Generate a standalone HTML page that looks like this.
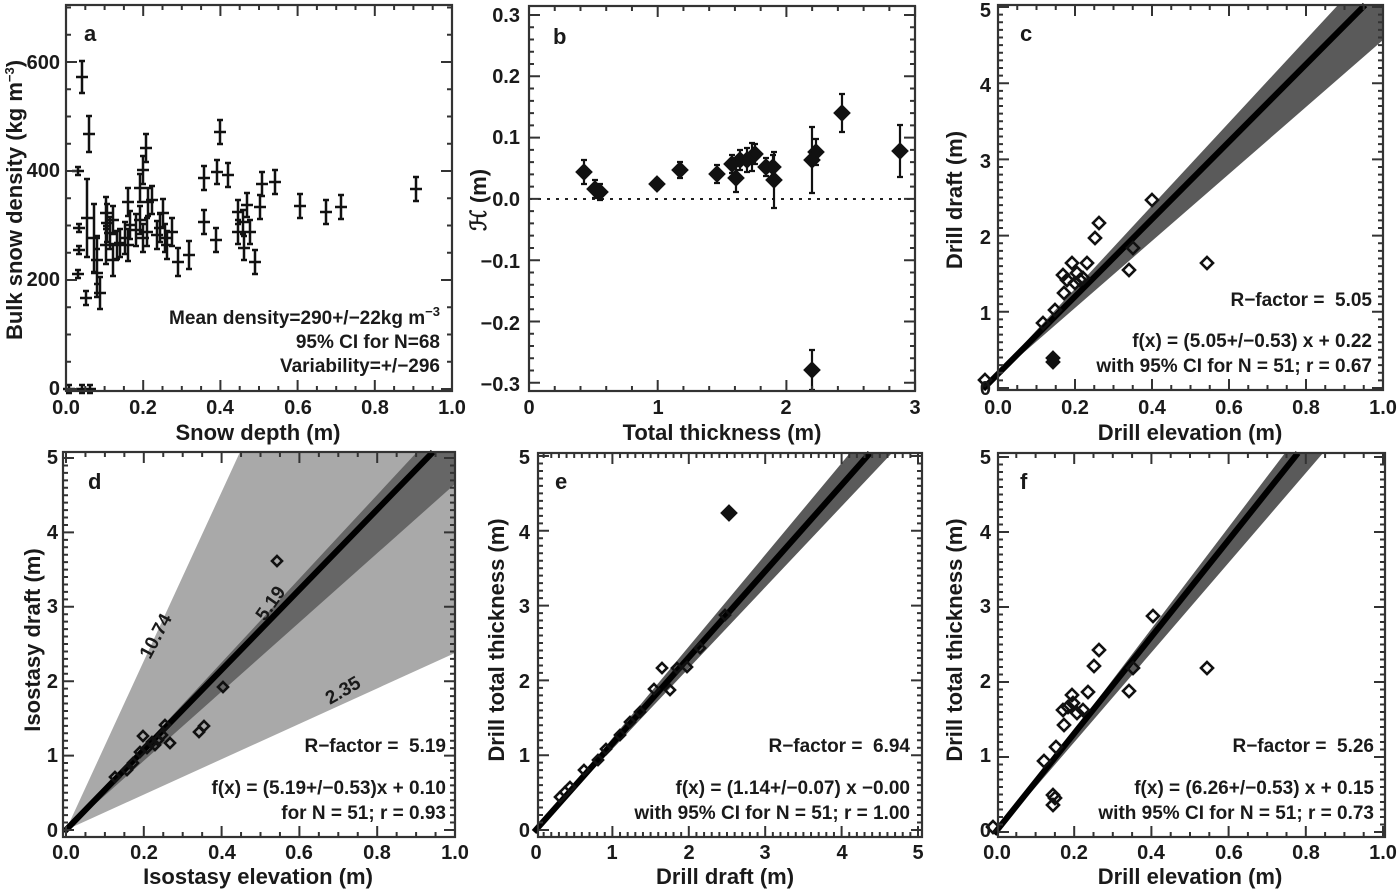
<!DOCTYPE html>
<html><head><meta charset="utf-8"><style>
html,body{margin:0;padding:0;background:#fff;}
svg{display:block;}
text{font-family:"Liberation Sans",Arial,sans-serif;font-weight:bold;fill:#1a1a1a;white-space:pre;}
.t{font-size:20px;}
.l{font-size:22px;}
.s{font-size:19px;}
</style></head><body>
<svg id="c" width="1400" height="891" viewBox="0 0 1400 891" xmlns="http://www.w3.org/2000/svg">
<g id="bands">
<polygon points="983,388 1338,5 1383,5 1383,40" fill="#5a5a5a"/>
<line x1="983" y1="389" x2="1365" y2="5" stroke="#000" stroke-width="6"/>
<polygon points="66,830 240,452 455,452 455,653" fill="#a9a9a9"/>
<polygon points="66,830 417,452 455,452 455,484" fill="#666"/>
<line x1="64" y1="832" x2="433" y2="452" stroke="#000" stroke-width="6"/>
<polygon points="536,830 850,453 892,453" fill="#5a5a5a"/>
<line x1="534" y1="832" x2="870" y2="453" stroke="#000" stroke-width="6"/>
<polygon points="997,832 1285,453 1323,453" fill="#5a5a5a"/>
<line x1="994" y1="834" x2="1298" y2="453" stroke="#000" stroke-width="6"/>
<line x1="529" y1="199" x2="915" y2="199" stroke="#222" stroke-width="2" stroke-dasharray="3,6"/>
</g>
<g id="marks"></g>
<g id="axes"></g>

<text x="84" y="41" class="l">a</text>
<text x="60" y="69" class="t" text-anchor="end">600</text>
<text x="60" y="177" class="t" text-anchor="end">400</text>
<text x="60" y="286" class="t" text-anchor="end">200</text>
<text x="60" y="395" class="t" text-anchor="end">0</text>
<text x="66" y="414" class="t" text-anchor="middle">0.0</text>
<text x="143" y="414" class="t" text-anchor="middle">0.2</text>
<text x="220" y="414" class="t" text-anchor="middle">0.4</text>
<text x="298" y="414" class="t" text-anchor="middle">0.6</text>
<text x="375" y="414" class="t" text-anchor="middle">0.8</text>
<text x="452" y="414" class="t" text-anchor="middle">1.0</text>
<text x="258" y="440" class="l" text-anchor="middle">Snow depth (m)</text>
<text transform="translate(22,200) rotate(-90)" class="l" text-anchor="middle">Bulk snow density (kg m<tspan dy="-8" font-size="13">−3</tspan><tspan dy="8">)</tspan></text>
<text x="440" y="324" class="s" text-anchor="end">Mean density=290+/−22kg m<tspan dy="-8" font-size="13">−3</tspan></text>
<text x="440" y="348" class="s" text-anchor="end">95% CI for N=68</text>
<text x="440" y="372" class="s" text-anchor="end">Variability=+/−296</text>

<text x="553" y="44" class="l">b</text>
<text x="520" y="22" class="t" text-anchor="end">0.3</text>
<text x="520" y="83" class="t" text-anchor="end">0.2</text>
<text x="520" y="144" class="t" text-anchor="end">0.1</text>
<text x="520" y="206" class="t" text-anchor="end">0.0</text>
<text x="520" y="268" class="t" text-anchor="end">−0.1</text>
<text x="520" y="330" class="t" text-anchor="end">−0.2</text>
<text x="520" y="391" class="t" text-anchor="end">−0.3</text>
<text x="529" y="414" class="t" text-anchor="middle">0</text>
<text x="658" y="414" class="t" text-anchor="middle">1</text>
<text x="786" y="414" class="t" text-anchor="middle">2</text>
<text x="915" y="414" class="t" text-anchor="middle">3</text>
<text x="722" y="440" class="l" text-anchor="middle">Total thickness (m)</text>
<text transform="translate(486,200) rotate(-90)" class="l" text-anchor="middle">ℋ (m)</text>

<text x="1020" y="41" class="l">c</text>
<text x="991" y="17" class="t" text-anchor="end">5</text>
<text x="991" y="92" class="t" text-anchor="end">4</text>
<text x="991" y="168" class="t" text-anchor="end">3</text>
<text x="991" y="244" class="t" text-anchor="end">2</text>
<text x="991" y="320" class="t" text-anchor="end">1</text>
<text x="991" y="395" class="t" text-anchor="end">0</text>
<text x="998" y="414" class="t" text-anchor="middle">0.0</text>
<text x="1075" y="414" class="t" text-anchor="middle">0.2</text>
<text x="1152" y="414" class="t" text-anchor="middle">0.4</text>
<text x="1229" y="414" class="t" text-anchor="middle">0.6</text>
<text x="1306" y="414" class="t" text-anchor="middle">0.8</text>
<text x="1383" y="414" class="t" text-anchor="middle">1.0</text>
<text x="1190" y="440" class="l" text-anchor="middle">Drill elevation (m)</text>
<text transform="translate(962,200) rotate(-90)" class="l" text-anchor="middle">Drill draft (m)</text>
<text x="1372" y="306" class="s" text-anchor="end">R−factor =  5.05</text>
<text x="1372" y="347" class="s" text-anchor="end">f(x) = (5.05+/−0.53) x + 0.22</text>
<text x="1372" y="372" class="s" text-anchor="end">with 95% CI for N = 51; r = 0.67</text>

<text x="88" y="489" class="l">d</text>
<text x="58" y="464" class="t" text-anchor="end">5</text>
<text x="58" y="539" class="t" text-anchor="end">4</text>
<text x="58" y="613" class="t" text-anchor="end">3</text>
<text x="58" y="688" class="t" text-anchor="end">2</text>
<text x="58" y="762" class="t" text-anchor="end">1</text>
<text x="58" y="837" class="t" text-anchor="end">0</text>
<text x="66" y="859" class="t" text-anchor="middle">0.0</text>
<text x="144" y="859" class="t" text-anchor="middle">0.2</text>
<text x="222" y="859" class="t" text-anchor="middle">0.4</text>
<text x="299" y="859" class="t" text-anchor="middle">0.6</text>
<text x="377" y="859" class="t" text-anchor="middle">0.8</text>
<text x="455" y="859" class="t" text-anchor="middle">1.0</text>
<text x="258" y="884" class="l" text-anchor="middle">Isostasy elevation (m)</text>
<text transform="translate(40,640) rotate(-90)" class="l" text-anchor="middle">Isostasy draft (m)</text>
<text transform="translate(150,660) rotate(-62)" class="s">10.74</text>
<text transform="translate(265,622) rotate(-55)" class="s">5.19</text>
<text transform="translate(330,705) rotate(-30)" class="s">2.35</text>
<text x="446" y="752" class="s" text-anchor="end">R−factor =  5.19</text>
<text x="446" y="794" class="s" text-anchor="end">f(x) = (5.19+/−0.53)x + 0.10</text>
<text x="446" y="819" class="s" text-anchor="end">for N = 51; r = 0.93</text>

<text x="555" y="489" class="l">e</text>
<text x="530" y="464" class="t" text-anchor="end">5</text>
<text x="530" y="539" class="t" text-anchor="end">4</text>
<text x="530" y="613" class="t" text-anchor="end">3</text>
<text x="530" y="688" class="t" text-anchor="end">2</text>
<text x="530" y="762" class="t" text-anchor="end">1</text>
<text x="530" y="837" class="t" text-anchor="end">0</text>
<text x="536" y="859" class="t" text-anchor="middle">0</text>
<text x="612" y="859" class="t" text-anchor="middle">1</text>
<text x="689" y="859" class="t" text-anchor="middle">2</text>
<text x="765" y="859" class="t" text-anchor="middle">3</text>
<text x="842" y="859" class="t" text-anchor="middle">4</text>
<text x="918" y="859" class="t" text-anchor="middle">5</text>
<text x="725" y="884" class="l" text-anchor="middle">Drill draft (m)</text>
<text transform="translate(504,640) rotate(-90)" class="l" text-anchor="middle">Drill total thickness (m)</text>
<text x="910" y="752" class="s" text-anchor="end">R−factor =  6.94</text>
<text x="910" y="794" class="s" text-anchor="end">f(x) = (1.14+/−0.07) x −0.00</text>
<text x="910" y="819" class="s" text-anchor="end">with 95% CI for N = 51; r = 1.00</text>

<text x="1020" y="489" class="l">f</text>
<text x="991" y="464" class="t" text-anchor="end">5</text>
<text x="991" y="539" class="t" text-anchor="end">4</text>
<text x="991" y="613" class="t" text-anchor="end">3</text>
<text x="991" y="688" class="t" text-anchor="end">2</text>
<text x="991" y="762" class="t" text-anchor="end">1</text>
<text x="991" y="837" class="t" text-anchor="end">0</text>
<text x="997" y="859" class="t" text-anchor="middle">0.0</text>
<text x="1074" y="859" class="t" text-anchor="middle">0.2</text>
<text x="1151" y="859" class="t" text-anchor="middle">0.4</text>
<text x="1229" y="859" class="t" text-anchor="middle">0.6</text>
<text x="1306" y="859" class="t" text-anchor="middle">0.8</text>
<text x="1383" y="859" class="t" text-anchor="middle">1.0</text>
<text x="1190" y="884" class="l" text-anchor="middle">Drill elevation (m)</text>
<text transform="translate(962,640) rotate(-90)" class="l" text-anchor="middle">Drill total thickness (m)</text>
<text x="1374" y="752" class="s" text-anchor="end">R−factor =  5.26</text>
<text x="1374" y="794" class="s" text-anchor="end">f(x) = (6.26+/−0.53) x + 0.15</text>
<text x="1374" y="819" class="s" text-anchor="end">with 95% CI for N = 51; r = 0.73</text>
</svg>
<script>
var NS="http://www.w3.org/2000/svg";
var axes=document.getElementById("axes"),marks=document.getElementById("marks");
function el(p,t,a){var e=document.createElementNS(NS,t);for(var k in a)e.setAttribute(k,a[k]);p.appendChild(e);return e;}
var d="";
function panel(x0,y0,x1,y1,xs,xstep,xmaj,ys,ystep,ymaj){
  el(axes,"rect",{x:x0,y:y0,width:x1-x0,height:y1-y0,fill:"none",stroke:"#333","stroke-width":2.2});
  var i=0;
  for(var x=xs;x<=x1+0.5;x+=xstep,i++){ if(x<x0-0.5) continue; var L=(i%xmaj==0)?11:5;
    d+="M"+x+" "+y1+"v"+(-L)+"M"+x+" "+y0+"v"+L;}
  i=0;
  for(var y=ys;y>=y0-0.5;y-=ystep,i++){ if(y>y1+0.5) continue; var L=(i%ymaj==0)?11:5;
    d+="M"+x0+" "+y+"h"+L+"M"+x1+" "+y+"h"+(-L);}
}
panel(66,5,452,391,66,19.3,4,389,27.25,4);
panel(529,6,915,391,529,25.74,5,382.8,12.26,5);
panel(998,5,1383,390,998,19.25,4,388,7.62,10);
panel(63,452,455,837,66,19.45,4,830,7.44,10);
panel(538,453,922,837,536,7.64,10,830,7.48,10);
panel(998,453,1385,837,997,19.3,4,832,7.5,10);
el(axes,"path",{d:d,stroke:"#333","stroke-width":2,fill:"none"});

var A=[[82,77,12],[89,134,14],[78,171,0],[79,228,0],[79,250,0],[78,274,0],[86,298,3],[87,218,35],[94,238,30],[97,260,20],[97,273,20],[100,293,12],[106,213,12],[107,223,15],[110,233,12],[106,245,15],[113,220,10],[113,260,12],[117,245,10],[120,243,10],[128,245,12],[125,238,12],[128,202,10],[130,225,10],[136,230,12],[140,188,10],[140,220,10],[143,238,10],[146,148,10],[143,170,10],[148,202,10],[147,232,10],[152,200,10],[157,235,10],[165,238,10],[160,228,10],[163,213,10],[167,245,10],[178,262,10],[172,232,10],[189,255,10],[204,178,8],[204,222,8],[217,172,8],[220,132,8],[216,240,8],[228,175,8],[238,212,8],[238,232,8],[250,232,8],[244,248,8],[260,207,8],[262,184,8],[255,262,8],[275,182,8],[247,205,8],[243,222,8],[300,206,8],[326,212,8],[341,207,8],[416,189,8],[82,389,0],[90,389,0],[69,389,0]];
var pa="";
A.forEach(function(p){pa+="M"+(p[0]-6)+" "+p[1]+"h12M"+p[0]+" "+(p[1]-4-p[2])+"v"+(8+2*p[2])+"M"+(p[0]-3)+" "+(p[1]-4-p[2])+"h6M"+(p[0]-3)+" "+(p[1]+4+p[2])+"h6";});
el(marks,"path",{d:pa,stroke:"#111","stroke-width":2.5,fill:"none"});

function dia(x,y,r,fill){el(marks,"path",{d:"M"+x+" "+(y-r)+"L"+(x+r)+" "+y+"L"+x+" "+(y+r)+"L"+(x-r)+" "+y+"Z",fill:fill?"#111":"#fff","fill-opacity":fill?1:0,stroke:"#111","stroke-width":2.6});}
var B=[[584,172,12],[595,189,9],[600,192,8],[657,184,5],[680,170,8],[717,174,9],[732,164,9],[736,178,14],[740,160,10],[747,160,12],[752,157,14],[755,154,10],[766,167,9],[773,167,12],[774,180,28],[812,160,33],[816,152,13],[842,113,19],[900,151,26],[812,370,20]];
var pb="";
B.forEach(function(p){pb+="M"+p[0]+" "+(p[1]-p[2])+"v"+(2*p[2])+"M"+(p[0]-3)+" "+(p[1]-p[2])+"h6M"+(p[0]-3)+" "+(p[1]+p[2])+"h6";});
el(marks,"path",{d:pb,stroke:"#111","stroke-width":2.2,fill:"none"});
B.forEach(function(p){dia(p[0],p[1],7,true);});
[[1152,200],[1095,238],[1099,223],[1133,248],[1129,270],[1207,263],[1087,263],[1072,263],[1063,275],[1067,280],[1077,273],[1080,280],[1075,283],[1064,293],[1083,278],[1055,310],[1043,323],[985,380]].forEach(function(p){dia(p[0],p[1],6,false);});
dia(1053,358,6,true);dia(1053,362,6,true);
[[277,561],[223,687],[199,732],[204,726],[170,743],[165,725],[143,736],[115,777],[127,770],[133,763],[140,752],[147,748],[152,742],[158,740],[162,735],[155,745]].forEach(function(p){dia(p[0],p[1],5,false);});
dia(729,513,7,true);
[[662,668],[677,668],[687,667],[654,689],[725,615],[700,648],[670,690],[640,712],[630,722],[620,735],[606,749],[598,760],[584,770],[570,787],[565,792],[560,797]].forEach(function(p){dia(p[0],p[1],5,false);});
[[1153,616],[1099,650],[1094,666],[1133,668],[1129,691],[1207,668],[1088,692],[1072,695],[1063,710],[1068,707],[1073,703],[1077,713],[1083,710],[1064,725],[1056,747],[1044,761],[1053,795],[1055,798],[1053,805],[993,827]].forEach(function(p){dia(p[0],p[1],6,false);});
</script>
</body></html>
